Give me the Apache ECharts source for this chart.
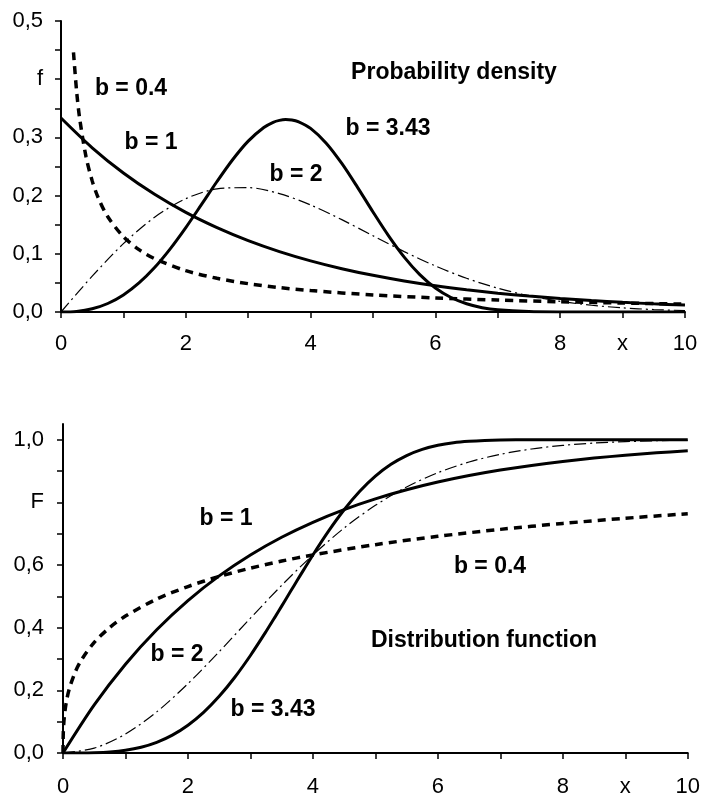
<!DOCTYPE html>
<html><head><meta charset="utf-8">
<script src="https://cdn.jsdelivr.net/npm/echarts@6/dist/echarts.min.js"></script>
<style>html,body{margin:0;padding:0;background:#fff}#c{width:703px;height:802px}</style>
</head><body><div id="c"></div>
<script>
// x positions
const xsCoarse = [0,0.5,1,1.5,2,2.5,3,3.5,4,4.5,5,5.5,6,6.5,7,7.5,8,8.5,9,9.5,10];
const xsB343 = [0,0.25,0.5,0.75,1,1.25,1.5,1.75,2,2.25,2.5,2.75,3,3.25,3.4,3.5,3.6,3.7,3.8,4,4.25,4.5,4.75,5,5.25,5.5,5.75,6,6.25,6.5,6.75,7,7.5,8,9,10];
const xsB04pdf = [0.2,0.25,0.3,0.4,0.5,0.6,0.75,1,1.25,1.5,2,2.5,3,3.5,4,5,6,7,8,9,10];
const xsB04cdf = [0,0.005,0.02,0.05,0.1,0.2,0.3,0.5,0.75,1,1.5,2,2.5,3,3.5,4,5,6,7,8,9,10];

// probability density f
const pdfB1 = [0.3333,0.2822,0.2388,0.2022,0.1711,0.1449,0.1226,0.1038,0.0879,0.0744,0.0630,0.0533,0.0451,0.0382,0.0323,0.0274,0.0232,0.0196,0.0166,0.0140,0.0119];
const pdfB2 = [0,0.0615,0.1174,0.1629,0.1947,0.2115,0.2137,0.2035,0.1839,0.1587,0.1310,0.1038,0.0791,0.0579,0.0409,0.0279,0.0183,0.0116,0.0071,0.0042,0.0024];
const pdfB343 = [0,0.0010,0.0055,0.0146,0.0293,0.0499,0.0764,0.1085,0.1450,0.1844,0.2242,0.2616,0.2936,0.3170,0.3259,0.3293,0.3307,0.3300,0.3272,0.3155,0.2901,0.2553,0.2146,0.1718,0.1308,0.0943,0.0643,0.0413,0.0249,0.0141,0.0074,0.0037,0.0007,0.0001,0,0];
const pdfB04 = [0.4462,0.3795,0.3318,0.2674,0.2253,0.1954,0.1636,0.1294,0.1072,0.0917,0.0710,0.0579,0.0487,0.0420,0.0368,0.0293,0.0242,0.0205,0.0176,0.0154,0.0136];

// distribution function F
const cdfB1 = [0,0.1535,0.2835,0.3935,0.4866,0.5654,0.6321,0.6886,0.7364,0.7769,0.8111,0.8401,0.8647,0.8854,0.9030,0.9179,0.9305,0.9412,0.9502,0.9579,0.9643];
const cdfB2 = [0,0.0155,0.0606,0.1312,0.2212,0.3234,0.4302,0.5350,0.6321,0.7180,0.7904,0.8490,0.8946,0.9287,0.9532,0.9703,0.9817,0.9891,0.9937,0.9965,0.9981];
const cdfB343 = [0,0.0001,0.0008,0.0032,0.0086,0.0183,0.0340,0.0570,0.0886,0.1297,0.1808,0.2417,0.3112,0.3877,0.4360,0.4688,0.5018,0.5348,0.5677,0.6321,0.7081,0.7764,0.8352,0.8835,0.9213,0.9493,0.9690,0.9820,0.9902,0.9949,0.9976,0.9989,0.9998,1,1,1];
const cdfB04 = [0,0.0667,0.1132,0.1591,0.2044,0.2605,0.2987,0.3529,0.4007,0.4369,0.4911,0.5313,0.5634,0.5899,0.6125,0.6321,0.6649,0.6915,0.7137,0.7327,0.7492,0.7637];

// tick labels
const xTickLabels = {0:'0',2:'2',4:'4',6:'6',8:'8',9:'x',10:'10'};
const fTickLabels = {0:'0,0',10:'0,1',20:'0,2',30:'0,3',40:'f',50:'0,5'};
const FTickLabels = {0:'0,0',20:'0,2',40:'0,4',60:'0,6',80:'F',100:'1,0'};

const zip = (xs, ys) => xs.map((x, i) => [x, ys[i]]);
const FONT = '"Liberation Sans", Arial, sans-serif';
const AX_FS = 22;

const solid = {color:'#000', width:3, type:'solid'};
const dashed = {color:'#000', width:3.5, type:[8,6]};
const dashDot = {color:'#000', width:1.2, type:[12,4,2,4]};

function line(data, style, idx) {
  return {type:'line', data, xAxisIndex:idx, yAxisIndex:idx, symbol:'none', showSymbol:false,
    smooth:0.3, lineStyle:style, silent:true, animation:false, clip:true};
}

function xAxis(idx) {
  return {type:'value', gridIndex:idx, min:0, max:10, interval:1,
    axisLine:{show:true, onZero:false, lineStyle:{color:'#000', width:2}},
    axisTick:{show:true, length:6, lineStyle:{color:'#000', width:1.5}},
    axisLabel:{color:'#000', fontSize:AX_FS, fontFamily:FONT, margin:idx===0?21:23,
      formatter: v => { const k = Math.round(v); return xTickLabels[k] !== undefined ? xTickLabels[k] : ''; }},
    splitLine:{show:false}};
}

const text = (x, y, s) => ({type:'text', x, y, silent:true,
  style:{text:s, fill:'#000', font:'bold 23px ' + FONT, align:'center', verticalAlign:'middle'}});

const option = {
  backgroundColor:'#fff',
  animation:false,
  grid:[
    {left:61, top:21, width:624, height:291},
    {left:63, top:424, width:625, height:329}
  ],
  xAxis:[xAxis(0), xAxis(1)],
  yAxis:[
    {type:'value', gridIndex:0, min:0, max:0.5, interval:0.05,
      axisLine:{show:true, lineStyle:{color:'#000', width:2}},
      axisTick:{show:true, length:6, lineStyle:{color:'#000', width:1.5}},
      axisLabel:{color:'#000', fontSize:AX_FS, fontFamily:FONT, margin:18,
        formatter: v => { const k = Math.round(v*100); return fTickLabels[k] !== undefined ? fTickLabels[k] : ''; }},
      splitLine:{show:false}},
    {type:'value', gridIndex:1, min:0, max:1.05, interval:0.1,
      axisLine:{show:true, lineStyle:{color:'#000', width:2}},
      axisTick:{show:true, length:6, lineStyle:{color:'#000', width:1.5},
        customValues:[0,0.1,0.2,0.3,0.4,0.5,0.6,0.7,0.8,0.9,1.0]},
      axisLabel:{color:'#000', fontSize:AX_FS, fontFamily:FONT, margin:19,
        customValues:[0,0.2,0.4,0.6,0.8,1.0],
        formatter: v => { const k = Math.round(v*100); return FTickLabels[k] !== undefined ? FTickLabels[k] : ''; }},
      splitLine:{show:false}}
  ],
  series:[
    line(zip(xsB04pdf, pdfB04), dashed, 0),
    line(zip(xsCoarse, pdfB1), solid, 0),
    line(zip(xsCoarse, pdfB2), dashDot, 0),
    line(zip(xsB343, pdfB343), solid, 0),
    line(zip(xsB04cdf, cdfB04), dashed, 1),
    line(zip(xsCoarse, cdfB1), solid, 1),
    line(zip(xsCoarse, cdfB2), dashDot, 1),
    line(zip(xsB343, cdfB343), solid, 1)
  ],
  graphic:[
    text(131, 89, 'b = 0.4'),
    text(151, 143, 'b = 1'),
    text(454, 73, 'Probability density'),
    text(388, 129, 'b = 3.43'),
    text(296, 175, 'b = 2'),
    text(226, 519, 'b = 1'),
    text(490, 567, 'b = 0.4'),
    text(177, 655, 'b = 2'),
    text(273, 710, 'b = 3.43'),
    text(484, 641, 'Distribution function')
  ]
};

const chart = echarts.init(document.getElementById('c'), null, {renderer:'canvas'});
chart.setOption(option);
</script></body></html>
